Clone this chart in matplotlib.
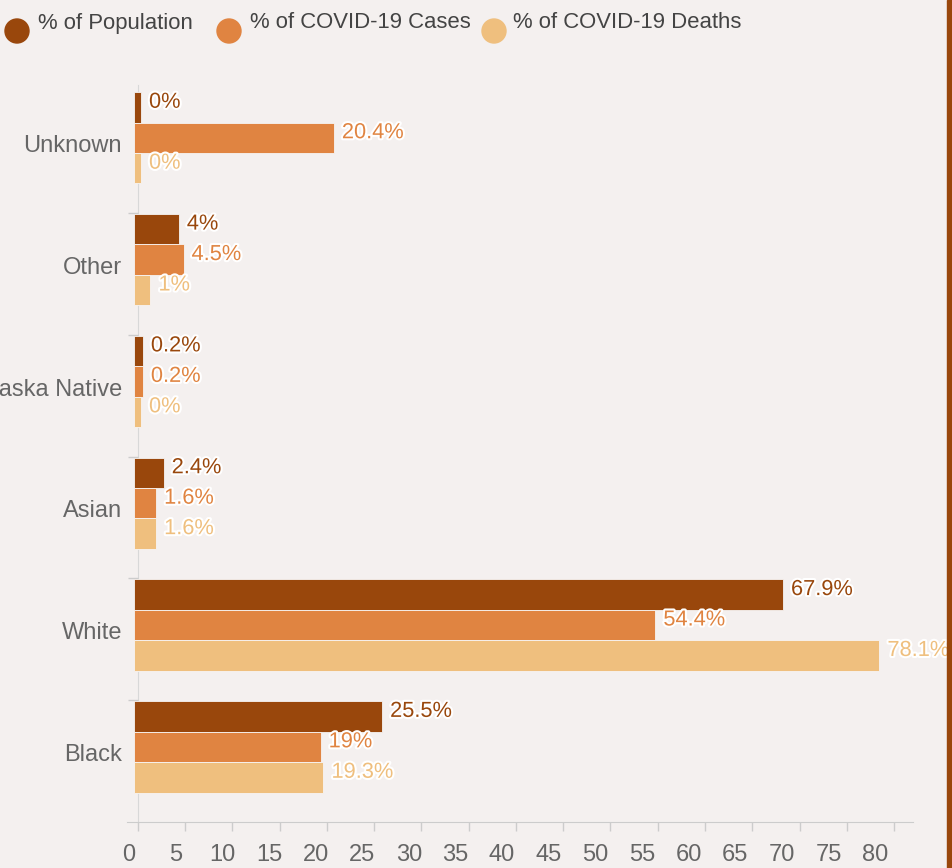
import numpy as np
import matplotlib
matplotlib.use("Agg")
import matplotlib.pyplot as plt
from matplotlib.patches import Ellipse, Rectangle
from matplotlib.transforms import ScaledTranslation
import matplotlib.patheffects as pe

plt.rcParams['font.family'] = ['Liberation Sans', 'DejaVu Sans']

categories = ['Unknown', 'Other', 'American Indian/Alaska Native', 'Asian', 'White', 'Black']
series_names = ['% of Population', '% of COVID-19 Cases', '% of COVID-19 Deaths']
pct_population = [0, 4, 0.2, 2.4, 67.9, 25.5]
pct_cases = [20.4, 4.5, 0.2, 1.6, 54.4, 19]
pct_deaths = [0, 1, 0, 1.6, 78.1, 19.3]
x_ticks = list(range(0, 85, 5))

colors = ['#99470c', '#e08441', '#efbf7e']
BG = '#f4f0ef'
STUB = 0.35  # minimum bar length, so 0% bars stay visible

fig = plt.figure(figsize=(9.52, 8.68), dpi=100, facecolor=BG)
ax = fig.add_axes([127 / 952, 46 / 868, 786 / 952, 737 / 868])
ax.set_facecolor(BG)

ypos = np.arange(len(categories))
bar_h = 0.25
offsets = [-0.367, -0.117, 0.133]
for vals, off, c in zip([pct_population, pct_cases, pct_deaths], offsets, colors):
    vals = np.array(vals, dtype=float)
    ax.barh(ypos + off, vals + 2 * STUB, left=-STUB, height=bar_h,
            color=c, edgecolor='#f7f4f3', linewidth=0.6, zorder=3)
    for y, v in zip(ypos + off, vals):
        ax.annotate(f"{v:g}%", xy=(v + STUB, y), xytext=(8, 5),
                    textcoords='offset pixels', ha='left', va='center',
                    color=c, fontsize=15.7, zorder=4,
                    path_effects=[pe.withStroke(linewidth=3, foreground='white')])

ax.set_xlim(-1.13, 82.0)
ax.set_ylim(5.5, -0.55)

for s in ['top', 'right']:
    ax.spines[s].set_visible(False)
ax.spines['left'].set_position(('data', 0))
ax.spines['left'].set_color('#d8d8d8')
ax.spines['left'].set_zorder(1)
ax.spines['bottom'].set_color('#cccccc')

ax.set_xticks(x_ticks)
ax.set_xticklabels([str(t) for t in x_ticks])
ax.tick_params(axis='x', length=6.5, width=1, color='#cccccc',
               labelcolor='#666666', labelsize=17, pad=9.5)
for lab, t in zip(ax.get_xticklabels(), x_ticks):
    dx = (-8.7 - 0.129 * t) / 100
    lab.set_transform(lab.get_transform() + ScaledTranslation(dx, 0, fig.dpi_scale_trans))

ax.set_yticks(ypos - 0.07)
ax.set_yticklabels(categories)
ax.set_yticks(ypos[:-1] + 0.5, minor=True)
ax.tick_params(axis='y', which='major', length=0, pad=11.3,
               labelcolor='#666666', labelsize=17)
ax.tick_params(axis='y', which='minor', length=7.2, width=1, color='#cccccc')

# legend
legend_x = [17, 229, 494]
text_x = [38, 250, 513]
for lx, tx, c, name in zip(legend_x, text_x, colors, series_names):
    fig.add_artist(Ellipse((lx / 952, 1 - 31 / 868), 24 / 952, 24 / 868,
                           transform=fig.transFigure, color=c))
    fig.text(tx / 952, 1 - 23 / 868, name, ha='left', va='center',
             fontsize=15.9, color='#444444')

# right border
fig.add_artist(Rectangle((947 / 952, 0), 5 / 952, 1, transform=fig.transFigure,
                         color=colors[0]))

fig.savefig('out.png', dpi=100, facecolor=BG)
